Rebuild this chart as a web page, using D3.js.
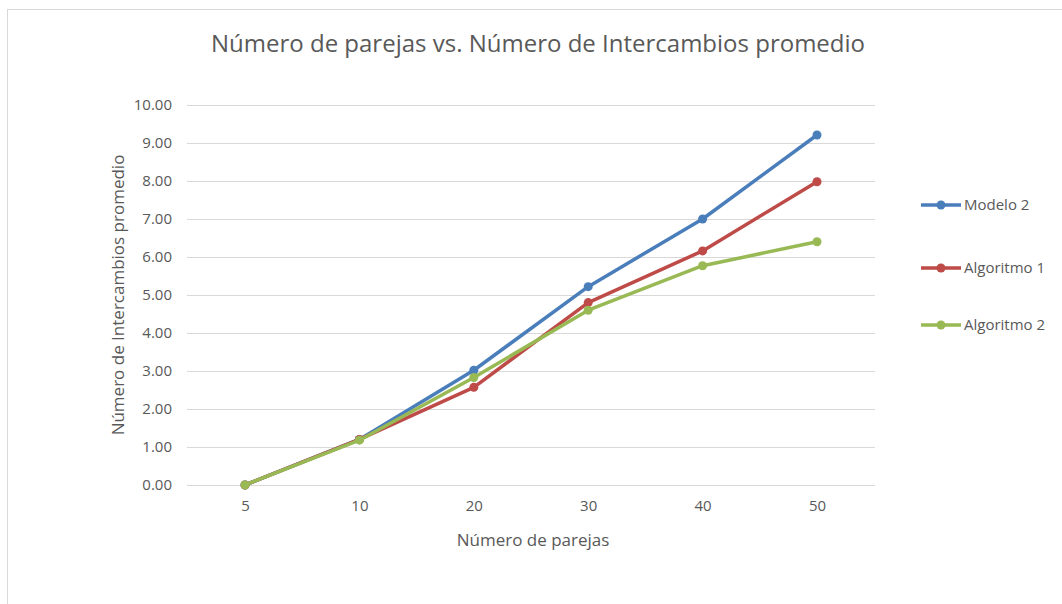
<!DOCTYPE html>
<html><head><meta charset="utf-8">
<script src="https://cdn.jsdelivr.net/npm/d3@7"></script>
<style>body{margin:0;background:#fff}svg{display:block}text{font-family:"Open Sans","Noto Sans",sans-serif}</style>
</head><body><svg id="c" width="1062" height="604"></svg>
<script>
const categories = ["5","10","20","30","40","50"];
const modelo2 = [0, 1.20, 3.02, 5.22, 7.00, 9.21];
const algoritmo1 = [0, 1.20, 2.57, 4.80, 6.16, 7.98];
const algoritmo2 = [0, 1.18, 2.83, 4.60, 5.77, 6.40];
const yTicks = [0,1,2,3,4,5,6,7,8,9,10];
const seriesNames = ["Modelo 2","Algoritmo 1","Algoritmo 2"];
const series = [modelo2, algoritmo1, algoritmo2];
const colors = ["#4A7EBB","#BE4B48","#98B954"];

const svg = d3.select("#c");
svg.append("rect").attr("x",7.5).attr("y",9.5).attr("width",1100).attr("height",700)
  .attr("fill","#fff").attr("stroke","#d9d9d9");

const x = d3.scalePoint().domain(categories).range([245, 817]);
const y = d3.scaleLinear().domain([0,10]).range([485, 105]);
const gridX0 = 187, gridX1 = 875;

svg.append("g").selectAll("line").data(yTicks).join("line")
  .attr("x1",gridX0).attr("x2",gridX1)
  .attr("y1",d=>Math.round(y(d))+0.5).attr("y2",d=>Math.round(y(d))+0.5)
  .attr("stroke","#d9d9d9").attr("stroke-width",1);

const yAxis = svg.append("g").attr("transform",`translate(${gridX0},0)`)
  .call(d3.axisLeft(y).tickValues(yTicks).tickFormat(d3.format(".2f")).tickSize(0).tickPadding(15));
yAxis.select(".domain").remove();
yAxis.selectAll("text").attr("fill","#595959").style("font-size","15px");

const xAxis = svg.append("g").attr("transform",`translate(0,485)`)
  .call(d3.axisBottom(x).tickSize(0).tickPadding(15));
xAxis.select(".domain").remove();
xAxis.selectAll("text").attr("fill","#595959").style("font-size","15px");

const line = d3.line().x((d,i)=>x(categories[i])).y(d=>y(d));
series.forEach((s,k)=>{
  const g = svg.append("g");
  g.append("path").datum(s).attr("d",line).attr("fill","none")
    .attr("stroke",colors[k]).attr("stroke-width",3.5).attr("stroke-linejoin","round").attr("stroke-linecap","round");
  g.selectAll("circle").data(s).join("circle")
    .attr("cx",(d,i)=>x(categories[i])).attr("cy",d=>y(d)).attr("r",4.5).attr("fill",colors[k]);
});

svg.append("text").attr("x",538).attr("y",52).attr("text-anchor","middle")
  .attr("fill","#595959").style("font-size","24px").text("Número de parejas vs. Número de Intercambios promedio");
svg.append("text").attr("x",533).attr("y",546).attr("text-anchor","middle")
  .attr("fill","#595959").style("font-size","17px").text("Número de parejas");
svg.append("text").attr("transform","translate(124,295) rotate(-90)").attr("text-anchor","middle")
  .attr("fill","#595959").style("font-size","17px").text("Número de Intercambios promedio");

const legY = [205, 268, 325];
const leg = svg.append("g");
seriesNames.forEach((n,k)=>{
  leg.append("line").attr("x1",921).attr("x2",961).attr("y1",legY[k]).attr("y2",legY[k])
    .attr("stroke",colors[k]).attr("stroke-width",3.5);
  leg.append("circle").attr("cx",941).attr("cy",legY[k]).attr("r",4.5).attr("fill",colors[k]);
  leg.append("text").attr("x",964).attr("y",legY[k]).attr("dy","0.35em")
    .attr("fill","#595959").style("font-size","15px").text(n);
});
</script></body></html>
